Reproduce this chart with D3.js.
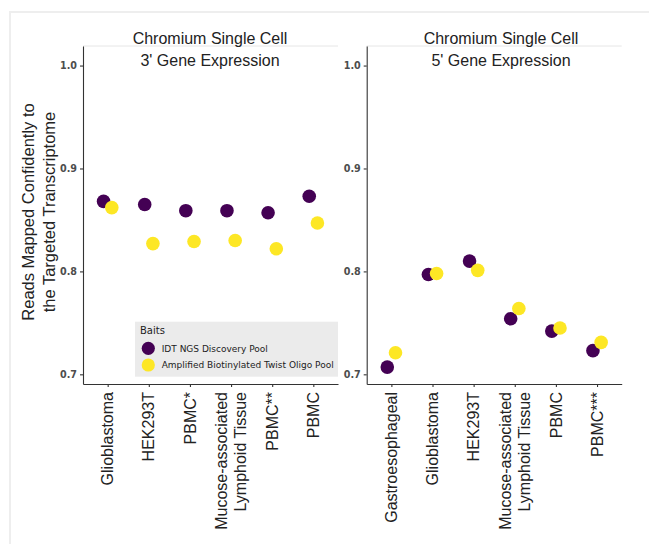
<!DOCTYPE html>
<html>
<head>
<meta charset="utf-8">
<script src="https://cdn.jsdelivr.net/npm/d3@7"></script>
<style>
  body { margin: 0; background: #fff; }
  .tick text { font-family: "DejaVu Sans", sans-serif; font-weight: bold; font-size: 9.6px; fill: #4d4d4d; }
  .axis path, .axis line { stroke: #333; stroke-width: 1.1; }
</style>
</head>
<body>
<div class="chart"></div>
<script>
// Chart values
var leftCats = ["Glioblastoma", "HEK293T", "PBMC*", "Mucose-associated\nLymphoid Tissue", "PBMC**", "PBMC"];
var leftIdt = [0.868, 0.865, 0.859, 0.859, 0.857, 0.873];
var leftTwist = [0.862, 0.827, 0.829, 0.830, 0.822, 0.847];

var rightCats = ["Gastroesophageal", "Glioblastoma", "HEK293T", "Mucose-associated\nLymphoid Tissue", "PBMC", "PBMC***"];
var rightIdt = [0.707, 0.797, 0.810, 0.754, 0.742, 0.723];
var rightTwist = [0.721, 0.798, 0.801, 0.764, 0.745, 0.731];

var yTicks = [0.7, 0.8, 0.9, 1.0];
var seriesNames = ["IDT NGS Discovery Pool", "Amplified Biotinylated Twist Oligo Pool"];
var seriesColors = ["#440154", "#FDE725"];

var svgWidth = 649;
var svgHeight = 544;

// Panel layout
var panelTop = 46;
var panelBottom = 384;
var panels = [
    { left: 83, right: 338, cats: leftCats, vals: [leftIdt, leftTwist], title: ["Chromium Single Cell", "3' Gene Expression"], titleX: 210 },
    { left: 366.7, right: 621.7, cats: rightCats, vals: [rightIdt, rightTwist], title: ["Chromium Single Cell", "5' Gene Expression"], titleX: 501 }
];

var svg = d3.select(".chart")
    .append("svg")
    .attr("width", svgWidth)
    .attr("height", svgHeight);

// faint frame at top and left
svg.append("path")
    .attr("d", "M10,544 L10,12 L649,12")
    .attr("fill", "none")
    .attr("stroke", "#eeeeee")
    .attr("stroke-width", 2);

var yScale = d3.scaleLinear()
    .domain([0.6906, 1.019])
    .range([panelBottom, panelTop]);

var dodge = 4.1;

panels.forEach(function(p) {
    var xScale = d3.scalePoint()
        .domain(p.cats)
        .range([p.left, p.right])
        .padding(0.6);

    // faint top border of the panel
    svg.append("line")
        .attr("x1", p.left).attr("x2", p.right)
        .attr("y1", panelTop).attr("y2", panelTop)
        .attr("stroke", "#e6e6e6");

    // y axis
    svg.append("g")
        .attr("class", "axis")
        .attr("transform", `translate(${p.left}, 0)`)
        .call(d3.axisLeft(yScale).tickValues(yTicks).tickFormat(d3.format(".1f")).tickSize(3).tickSizeOuter(0).tickPadding(3));

    // x axis
    var xAxis = svg.append("g")
        .attr("class", "axis")
        .attr("transform", `translate(0, ${panelBottom})`)
        .call(d3.axisBottom(xScale).tickSize(3).tickSizeOuter(0).tickFormat(""));

    // rotated category labels
    p.cats.forEach(function(c) {
        var lines = c.split("\n");
        var t = svg.append("text")
            .attr("transform", `translate(${xScale(c)}, 392) rotate(-90)`)
            .attr("text-anchor", "end")
            .style("font-family", "'Liberation Sans', Arial, sans-serif")
            .style("font-size", "16px")
            .style("fill", "#222");
        lines.forEach(function(l, i) {
            var off = 5.6 + (i - (lines.length - 1) / 2) * 19.5;
            t.append("tspan").attr("x", 0).attr("y", off).text(l);
        });
    });

    // panel title
    svg.append("text")
        .attr("text-anchor", "middle")
        .style("font-family", "'Liberation Sans', Arial, sans-serif")
        .style("font-size", "16px")
        .style("fill", "#222")
        .selectAll("tspan")
        .data(p.title)
        .enter()
        .append("tspan")
        .attr("x", p.titleX)
        .attr("y", (d, i) => 44 + i * 21.7)
        .text(d => d);

    // points, purple then yellow on top
    p.vals.forEach(function(vals, s) {
        svg.append("g")
            .selectAll("circle")
            .data(vals)
            .enter()
            .append("circle")
            .attr("cx", (d, i) => xScale(p.cats[i]) + (s === 0 ? -dodge : dodge))
            .attr("cy", d => yScale(d))
            .attr("r", 6.8)
            .attr("fill", seriesColors[s]);
    });
});

// y axis title
svg.append("text")
    .attr("transform", "translate(0, 212) rotate(-90)")
    .attr("text-anchor", "middle")
    .style("font-family", "'Liberation Sans', Arial, sans-serif")
    .style("font-size", "16.5px")
    .style("fill", "#222")
    .selectAll("tspan")
    .data(["Reads Mapped Confidently to", "the Targeted Transcriptome"])
    .enter()
    .append("tspan")
    .attr("x", 0)
    .attr("y", (d, i) => 33.5 + i * 21)
    .text(d => d);

// legend
var legend = svg.append("g");
legend.append("rect")
    .attr("x", 135).attr("y", 321.7)
    .attr("width", 203).attr("height", 55)
    .attr("fill", "#ebebeb");
legend.append("text")
    .attr("x", 140).attr("y", 334)
    .style("font-family", "'DejaVu Sans', sans-serif")
    .style("font-size", "10px")
    .style("fill", "#222")
    .text("Baits");
seriesNames.forEach(function(n, i) {
    legend.append("circle")
        .attr("cx", 148.3).attr("cy", 348.3 + i * 16.7)
        .attr("r", 6.6)
        .attr("fill", seriesColors[i]);
    legend.append("text")
        .attr("x", 161.7).attr("y", 351.5 + i * 16.7)
        .style("font-family", "'DejaVu Sans', sans-serif")
        .style("font-size", "9px")
        .style("fill", "#222")
        .text(n);
});
</script>
</body>
</html>
